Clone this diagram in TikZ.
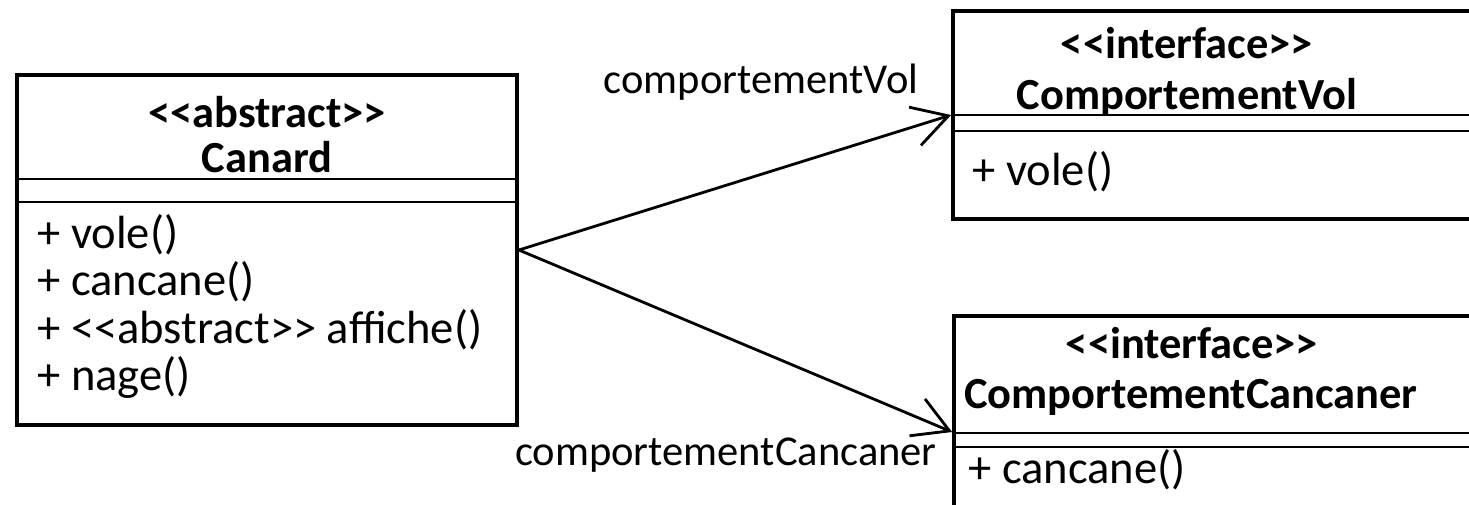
\documentclass[tikz,border=0pt]{standalone}
\usepackage{fontspec}
\setmainfont{Carlito}
\usetikzlibrary{positioning,arrows.meta}

\begin{document}
\begin{tikzpicture}[x=0.02cm,y=-0.02cm,
                    font=\fontsize{26.5}{31}\selectfont,
                    class box/.style={draw,rectangle,line width=2.2pt,inner sep=0pt},
                    sep line/.style={line width=0.7pt},
                    title/.style={font=\fontsize{25.3}{30}\selectfont\bfseries,inner sep=0pt},
                    member/.style={anchor=west,inner sep=0pt},
                    role/.style={font=\fontsize{24.2}{29}\selectfont,inner sep=0pt},
                    assoc/.style={line width=1.6pt,-{Straight Barb[length=0.7cm,width=0.8cm]}}
                   ]
  \useasboundingbox (0,0) rectangle (1469,504);
  \clip (0,0) rectangle (1469,504);

  % classes
  \node[class box,minimum width=10cm,minimum height=7cm] (canard) at (267,250) {};
  \node[class box,minimum width=11cm,minimum height=4.16cm] (vol) at (1228,115) {};
  \node[class box,minimum width=11cm,minimum height=4.64cm] (cancaner) at (1229,432) {};

  % compartments
  \draw[sep line] (17,179) -- (517,179);
  \draw[sep line] (17,202) -- (517,202);
  \draw[sep line] (953,115) -- (1480,115);
  \draw[sep line] (953,131) -- (1480,131);
  \draw[sep line] (954,433) -- (1480,433);
  \draw[sep line] (954,447) -- (1480,447);

  % names
  \node[title] (canardStereo) at (267,112) {<{}<abstract>{}>};
  \node[title] (canardName) at (267,157) {Canard};
  \node[title] (volStereo) at (1187,43) {<{}<interface>{}>};
  \node[title] (volName) at (1187,97) {ComportementVol};
  \node[title] (cancanerStereo) at (1192,343) {<{}<interface>{}>};
  \node[title] (cancanerName) at (1191,397) {ComportementCancaner};

  % operations
  \node[member] (opVole) at (37,235) {+ vole()};
  \node[member] (opCancane) at (37,282) {+ cancane()};
  \node[member] (opAffiche) at (37,330) {+ <{}<abstract>{}> affiche()};
  \node[member] (opNage) at (37,377) {+ nage()};
  \node[member] (volVole) at (972,172) {+ vole()};
  \node[member] (cancanerCancane) at (968,470) {+ cancane()};

  % associations
  \path (canard.east) edge[assoc] (vol.west)
        (canard.east) edge[assoc] (cancaner.west);
  \node[role] (volRole) at (761,82) {comportementVol};
  \node[role] (cancanerRole) at (726,455) {comportementCancaner};
\end{tikzpicture}
\end{document}
